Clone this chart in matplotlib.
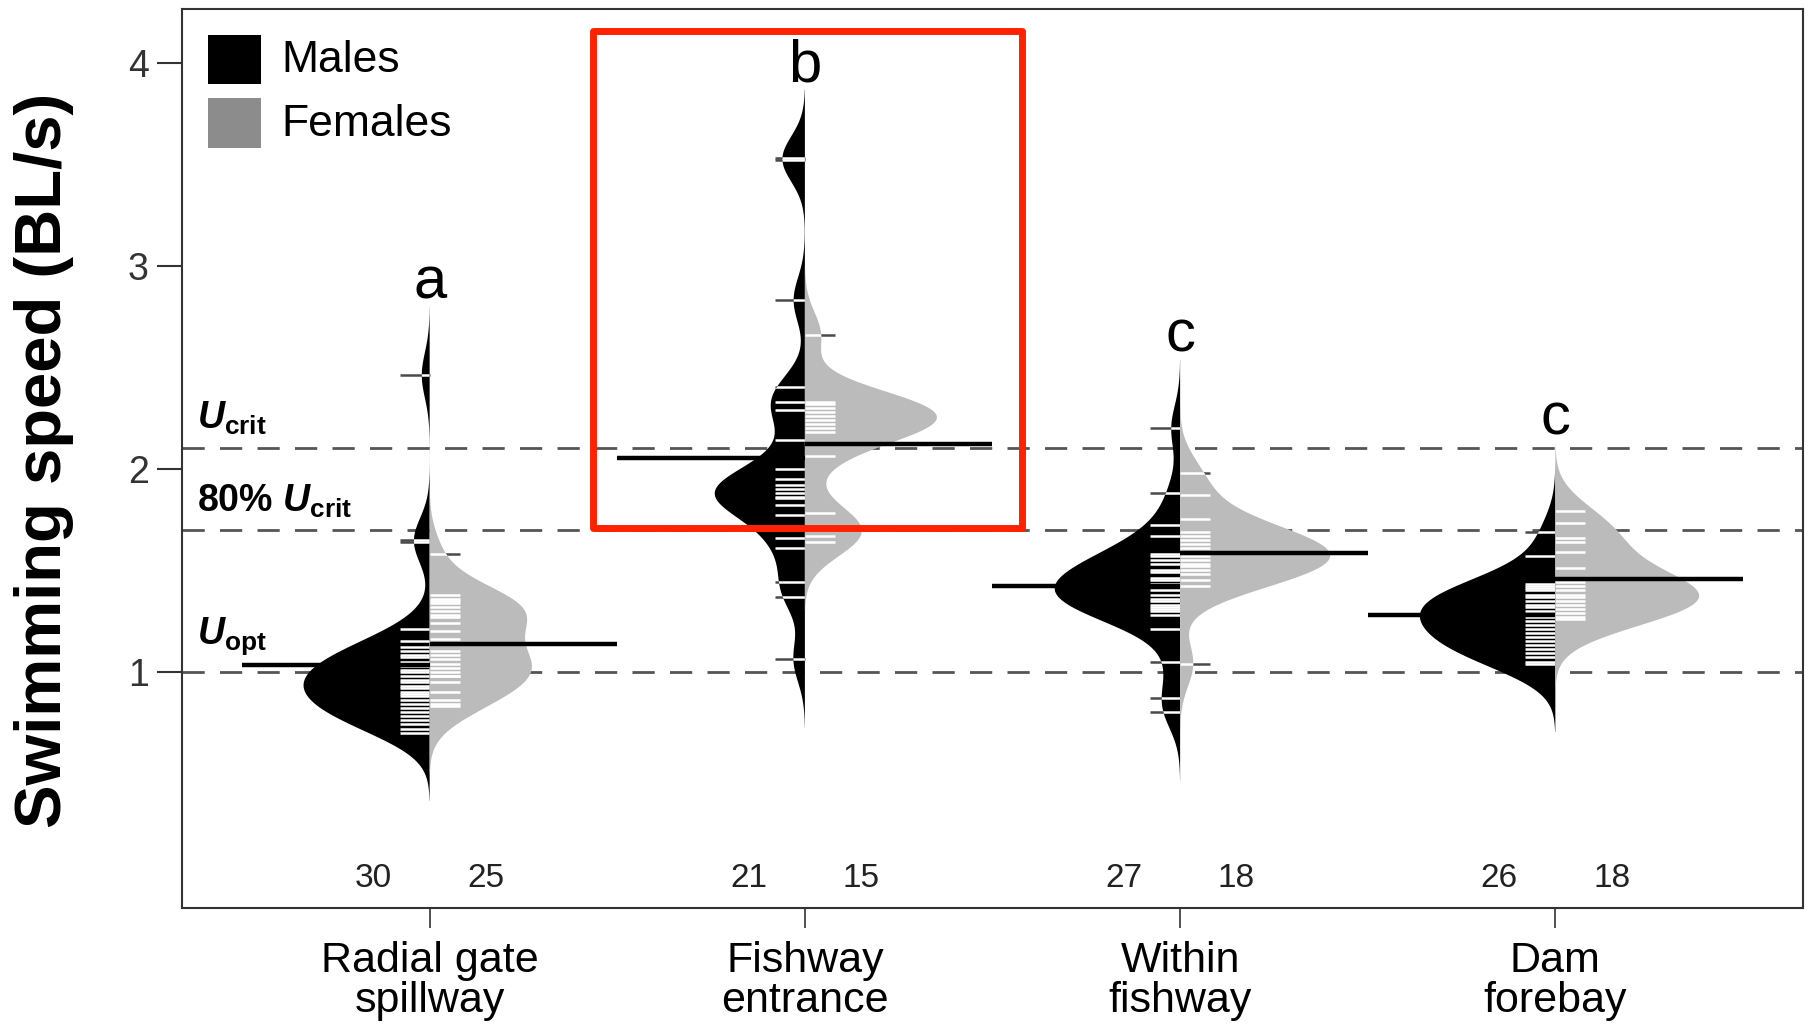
import numpy as np
import matplotlib
matplotlib.use("Agg")
import matplotlib.pyplot as plt
from matplotlib.patches import Polygon, Rectangle

plt.rcParams['font.family'] = ['Liberation Sans', 'DejaVu Sans']
plt.rcParams['mathtext.fontset'] = 'custom'
plt.rcParams['mathtext.it'] = 'Liberation Sans:italic:bold'
plt.rcParams['mathtext.bf'] = 'Liberation Sans:bold'
plt.rcParams['mathtext.rm'] = 'Liberation Sans:bold'

# ---- data ----
sites = ["Radial gate\nspillway", "Fishway\nentrance", "Within\nfishway", "Dam\nforebay"]
letters = ["a", "b", "c", "c"]

males_radial = [2.46, 1.65, 1.64, 0.70, 0.72, 0.74, 0.76, 0.78, 0.80, 0.82, 0.84, 0.86,
                0.88, 0.89, 0.90, 0.92, 0.93, 0.95, 0.96, 0.98, 1.00, 1.01, 1.03, 1.05,
                1.07, 1.08, 1.10, 1.12, 1.15, 1.21]
females_radial = [1.58, 0.83, 0.84, 0.86, 0.90, 0.95, 0.98, 0.98, 1.00, 1.02, 1.04, 1.06,
                  1.08, 1.10, 1.16, 1.20, 1.24, 1.27, 1.28, 1.30, 1.32, 1.34, 1.35, 1.36, 1.38]

males_entrance = [3.53, 3.52, 2.83, 2.40, 2.33, 2.29, 2.14, 2.00, 1.95, 1.92, 1.90, 1.88,
                  1.86, 1.855, 1.82, 1.77, 1.66, 1.61, 1.44, 1.37, 1.06]
females_entrance = [2.66, 2.33, 2.32, 2.30, 2.28, 2.26, 2.24, 2.22, 2.20, 2.18, 2.06, 1.78,
                    1.70, 1.67, 1.64]

males_within = [2.20, 1.88, 1.72, 1.67, 1.58, 1.57, 1.55, 1.53, 1.50, 1.49, 1.46, 1.45,
                1.43, 1.42, 1.40, 1.38, 1.36, 1.35, 1.33, 1.32, 1.31, 1.30, 1.21, 1.05,
                0.87, 0.80, 1.28]
females_within = [1.98, 1.87, 1.75, 1.69, 1.67, 1.65, 1.63, 1.61, 1.59, 1.57, 1.55, 1.53,
                  1.52, 1.50, 1.48, 1.45, 1.42, 1.04]

males_forebay = [1.69, 1.57, 1.43, 1.42, 1.41, 1.40, 1.38, 1.37, 1.35, 1.33, 1.32, 1.30,
                 1.28, 1.27, 1.25, 1.23, 1.21, 1.19, 1.17, 1.15, 1.13, 1.11, 1.09, 1.07,
                 1.05, 1.04]
females_forebay = [1.79, 1.73, 1.66, 1.64, 1.59, 1.51, 1.46, 1.44, 1.42, 1.40, 1.38, 1.35,
                   1.33, 1.31, 1.29, 1.27, 1.26, 1.37]

males = [males_radial, males_entrance, males_within, males_forebay]
females = [females_radial, females_entrance, females_within, females_forebay]

ref_levels = [2.1, 1.7, 1.0]
ref_labels = [r"$\mathit{U}_{\mathbf{crit}}$", r"80% $\mathit{U}_{\mathbf{crit}}$",
              r"$\mathit{U}_{\mathbf{opt}}$"]
ref_label_y = [2.197, 1.788, 1.138]

bw = 0.112
male_col = "black"
female_col = "#bbbbbb"


def kde(values, grid):
    v = np.asarray(values)
    z = (grid[:, None] - v[None, :]) / bw
    return np.exp(-0.5 * z ** 2).sum(axis=1) / (len(v) * bw * np.sqrt(2 * np.pi))


fig = plt.figure(figsize=(18.14, 10.24), dpi=100)
ax = fig.add_axes([182 / 1814, 116 / 1024, 1621 / 1814, 899 / 1024])

# reference lines
for lvl, lab, ly in zip(ref_levels, ref_labels, ref_label_y):
    ax.axhline(lvl, color="#555555", lw=2, linestyle=(0, (8, 5.5)), zorder=1)
    ax.text(0.381, ly, lab, fontsize=27, fontweight="bold", va="baseline", ha="left")

# densities
beans = []
for i in range(4):
    for side, vals in ((-1, males[i]), (1, females[i])):
        grid = np.linspace(min(vals) - 3 * bw, max(vals) + 3 * bw, 500)
        beans.append((i + 1, side, vals, grid, kde(vals, grid)))

scale = 0.40 / max(d.max() for _, _, _, _, d in beans)

for c, side, vals, grid, dens in beans:
    color = male_col if side < 0 else female_col
    xs = c + side * dens * scale
    pts = np.column_stack([np.r_[c, xs, c], np.r_[grid[0], grid, grid[-1]]])
    x0, x1 = sorted([c, c + side * 0.08])

    # bean lines outside the bean
    ax.hlines(vals, x0, x1, colors="#4a4a4a", lw=1.8, zorder=2)
    poly = Polygon(pts, closed=True, facecolor=color, edgecolor="none", zorder=3)
    ax.add_patch(poly)
    inner = ax.hlines(vals, x0, x1, colors="white", lw=1.8, zorder=4)
    inner.set_clip_path(poly)

    # mean line
    m = np.mean(vals)
    ax.hlines(m, *sorted([c, c + side * 0.5]), colors="black", lw=3.2, zorder=5)

    # sample size
    ax.text(c + side * 0.15, -0.02, str(len(vals)), fontsize=24, color="#222222",
            ha="center", va="center")

    if side > 0:
        top = max(max(males[c - 1]), max(vals)) + 3 * bw
        ax.text(c, top + 0.04, letters[c - 1], fontsize=43, ha="center", va="baseline")

# highlight box
ax.add_patch(Rectangle((1.434, 1.707), 2.578 - 1.434, 4.157 - 1.707, fill=False,
                       edgecolor="#ff2200", lw=5, joinstyle="round", zorder=10,
                       clip_on=False))

# legend
ax.add_patch(Rectangle((0.016, 0.9166), 0.0327, 0.0545, transform=ax.transAxes,
                       facecolor="black", edgecolor="none"))
ax.add_patch(Rectangle((0.016, 0.8454), 0.0327, 0.0556, transform=ax.transAxes,
                       facecolor="#8c8c8c", edgecolor="none"))
ax.text(0.061, 0.943, "Males", transform=ax.transAxes, fontsize=32, va="center")
ax.text(0.061, 0.872, "Females", transform=ax.transAxes, fontsize=32, va="center")

ax.set_xlim(0.34, 4.66)
ax.set_ylim(-0.164, 4.264)
ax.set_yticks([1, 2, 3, 4])
ax.set_xticks([1, 2, 3, 4])
ax.set_xticklabels(sites, fontsize=31, linespacing=1.0)
ax.tick_params(axis="y", labelsize=27, length=18, width=1.5, pad=6,
               labelcolor="#333333", color="#333333")
ax.tick_params(axis="x", length=14.5, width=1.2, pad=9, color="#333333")
for s in ax.spines.values():
    s.set_color("#333333")
    s.set_linewidth(1.5)

fig.text(44 / 1814, 1 - 460 / 1024, "Swimming speed (BL/s)", rotation=90,
         fontsize=47, fontweight="bold", fontstyle="normal", ha="center", va="center")

fig.savefig("out.png", dpi=100)
